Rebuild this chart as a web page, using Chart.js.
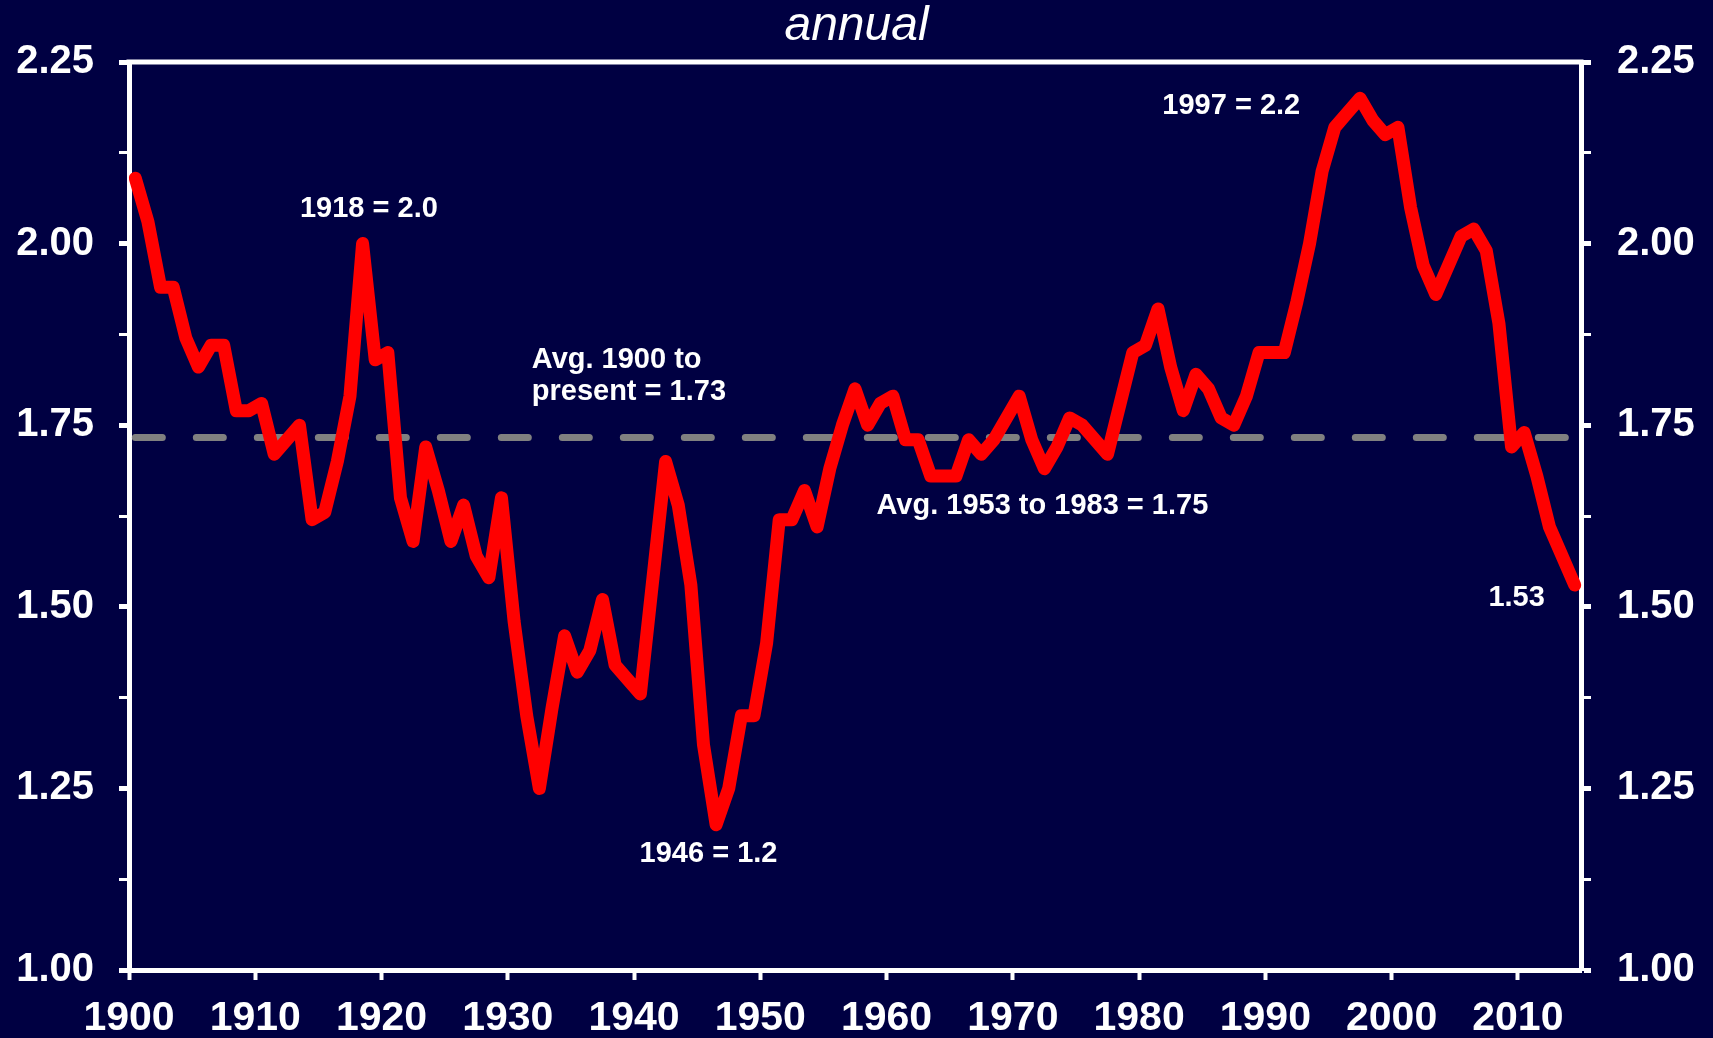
<!DOCTYPE html>
<html>
<head>
<meta charset="utf-8">
<script src="https://cdn.jsdelivr.net/npm/chart.js@4.4.0/dist/chart.umd.min.js"></script>
<style>
  html, body { margin: 0; padding: 0; background: #000042; }
  #wrap { width: 1713px; height: 1038px; }
</style>
</head>
<body>
<div id="wrap"><canvas id="chart" width="1713" height="1038"></canvas></div>
<script>
// Annual ratio, 1900 onwards
const FIRST_YEAR = 1900;
const ratio = [
  2.09, 2.03, 1.94, 1.94, 1.87, 1.83, 1.86, 1.86, 1.77, 1.77,   // 1900s
  1.78, 1.71, 1.73, 1.75, 1.62, 1.63, 1.70, 1.79, 2.00, 1.84,   // 1910s
  1.85, 1.65, 1.59, 1.72, 1.66, 1.59, 1.64, 1.57, 1.54, 1.65,   // 1920s
  1.48, 1.35, 1.25, 1.36, 1.46, 1.41, 1.44, 1.51, 1.42, 1.40,   // 1930s
  1.38, 1.54, 1.70, 1.64, 1.53, 1.31, 1.20, 1.25, 1.35, 1.35,   // 1940s
  1.45, 1.62, 1.62, 1.66, 1.61, 1.69, 1.75, 1.80, 1.75, 1.78,   // 1950s
  1.79, 1.73, 1.73, 1.68, 1.68, 1.68, 1.73, 1.71, 1.73, 1.76,   // 1960s
  1.79, 1.73, 1.69, 1.72, 1.76, 1.75, 1.73, 1.71, 1.78, 1.85,   // 1970s
  1.86, 1.91, 1.83, 1.77, 1.82, 1.80, 1.76, 1.75, 1.79, 1.85,   // 1980s
  1.85, 1.85, 1.92, 2.00, 2.10, 2.16, 2.18, 2.20, 2.17, 2.15,   // 1990s
  2.16, 2.05, 1.97, 1.93, 1.97, 2.01, 2.02, 1.99, 1.89, 1.72,   // 2000s
  1.74, 1.68, 1.61, 1.57, 1.53                                  // 2010s
];
const years = ratio.map((_, i) => FIRST_YEAR + i);

// Axis ticks
const X_TICKS = [1900, 1910, 1920, 1930, 1940, 1950, 1960, 1970, 1980, 1990, 2000, 2010];
const Y_MAJOR = [1.00, 1.25, 1.50, 1.75, 2.00, 2.25];

const TITLE = 'annual';

// Averages
const mean = (from, to) => {
  const vals = ratio.filter((_, i) => years[i] >= from && years[i] <= to);
  return vals.reduce((s, v) => s + v, 0) / vals.length;
};
const lastYear = years[years.length - 1];
const AVG_ALL = mean(FIRST_YEAR, lastYear);
const AVG_MID = mean(1953, 1983);

const valueOf = yr => ratio[years.indexOf(yr)];
// annual values are plotted at mid-year
const MID = 0.5;

const FONT = "'Liberation Sans', Arial, Helvetica, sans-serif";
Chart.defaults.font.family = FONT;
Chart.defaults.color = '#ffffff';

// minor ticks every 0.125 between the labelled ones
const yTickValues = [];
Y_MAJOR.forEach((v, i) => {
  yTickValues.push(v);
  if (i < Y_MAJOR.length - 1) yTickValues.push((v + Y_MAJOR[i + 1]) / 2);
});
const isMajor = v => Y_MAJOR.some(m => Math.abs(m - v) < 1e-9);

const notes = [
  { text: `1918 = ${valueOf(1918).toFixed(1)}`, x: 1919.0, y: 2.048, align: 'center' },
  { text: `Avg. ${FIRST_YEAR} to`, x: 1931.9, y: 1.840, align: 'left' },
  { text: `present = ${AVG_ALL.toFixed(2)}`, x: 1931.9, y: 1.796, align: 'left' },
  { text: `Avg. 1953 to 1983 = ${AVG_MID.toFixed(2)}`, x: 1959.2, y: 1.639, align: 'left' },
  { text: `1946 = ${valueOf(1946).toFixed(1)}`, x: 1945.9, y: 1.160, align: 'center' },
  { text: `1997 = ${valueOf(1997).toFixed(1)}`, x: 1987.3, y: 2.189, align: 'center' },
  { text: valueOf(lastYear).toFixed(2), x: 2009.9, y: 1.512, align: 'center' }
];

const background = {
  id: 'background',
  beforeDraw(chart) {
    const { ctx, width, height } = chart;
    ctx.save();
    ctx.fillStyle = '#000042';
    ctx.fillRect(0, 0, width, height);
    ctx.restore();
  }
};

const topFrame = {
  id: 'topFrame',
  beforeDatasetsDraw(chart) {
    const { ctx, chartArea: a } = chart;
    ctx.save();
    ctx.strokeStyle = '#ffffff';
    ctx.lineWidth = 5;
    ctx.beginPath();
    ctx.moveTo(a.left - 2.5, a.top);
    ctx.lineTo(a.right + 2.5, a.top);
    ctx.stroke();
    ctx.restore();
  }
};

const noteLabels = {
  id: 'noteLabels',
  afterDatasetsDraw(chart) {
    const { ctx, scales } = chart;
    ctx.save();
    ctx.fillStyle = '#ffffff';
    ctx.font = `bold 29px ${FONT}`;
    ctx.textBaseline = 'middle';
    notes.forEach(n => {
      ctx.textAlign = n.align;
      ctx.fillText(n.text, scales.x.getPixelForValue(n.x), scales.y.getPixelForValue(n.y));
    });
    ctx.restore();
  }
};

const yAxis = (position, width) => ({
  type: 'linear',
  position,
  min: 1,
  max: 2.25,
  afterBuildTicks: s => { s.ticks = yTickValues.map(v => ({ value: v })); },
  afterFit: s => { s.width = width; },
  ticks: {
    color: '#ffffff',
    padding: position === 'left' ? 25 : 26,
    font: { family: FONT, size: 40, weight: 'bold' },
    callback: v => (isMajor(v) ? v.toFixed(2) : '')
  },
  grid: {
    drawOnChartArea: false,
    drawTicks: true,
    tickLength: 10,
    tickColor: '#ffffff',
    tickWidth: ctx => (ctx.tick && isMajor(ctx.tick.value) ? 5 : 3)
  },
  border: { display: true, color: '#ffffff', width: 5 }
});

new Chart(document.getElementById('chart'), {
  type: 'line',
  data: {
    datasets: [
      {
        label: 'annual',
        data: years.map((yr, i) => ({ x: yr + MID, y: ratio[i] })),
        borderColor: '#ff0000',
        borderWidth: 13,
        borderJoinStyle: 'round',
        borderCapStyle: 'round',
        pointRadius: 0,
        tension: 0,
        clip: false,
        order: 0
      },
      {
        label: 'average',
        data: [
          { x: years[0] + MID, y: AVG_ALL },
          { x: lastYear + MID, y: AVG_ALL }
        ],
        borderColor: '#808080',
        borderWidth: 7,
        borderDash: [27, 34],
        borderCapStyle: 'round',
        pointRadius: 0,
        clip: false,
        order: 1
      }
    ]
  },
  options: {
    responsive: false,
    animation: false,
    events: [],
    layout: { padding: 0 },
    plugins: {
      legend: { display: false },
      tooltip: { enabled: false },
      title: {
        display: true,
        text: TITLE,
        color: '#ffffff',
        font: { family: FONT, size: 48, style: 'italic', weight: 'normal', lineHeight: 1 },
        padding: { top: 3, bottom: 11 }
      }
    },
    scales: {
      x: {
        type: 'linear',
        position: 'bottom',
        min: 1900,
        max: 2015,
        afterBuildTicks: s => { s.ticks = X_TICKS.map(v => ({ value: v })); },
        afterFit: s => { s.height = 68; },
        ticks: {
          color: '#ffffff',
          padding: 14,
          maxRotation: 0,
          autoSkip: false,
          font: { family: FONT, size: 41, weight: 'bold' },
          callback: v => String(v)
        },
        grid: {
          drawOnChartArea: false,
          drawTicks: true,
          tickLength: 10,
          tickColor: '#ffffff',
          tickWidth: 4
        },
        border: { display: true, color: '#ffffff', width: 5 }
      },
      y: yAxis('left', 129),
      y1: yAxis('right', 132)
    }
  },
  plugins: [background, topFrame, noteLabels]
});
</script>
</body>
</html>
